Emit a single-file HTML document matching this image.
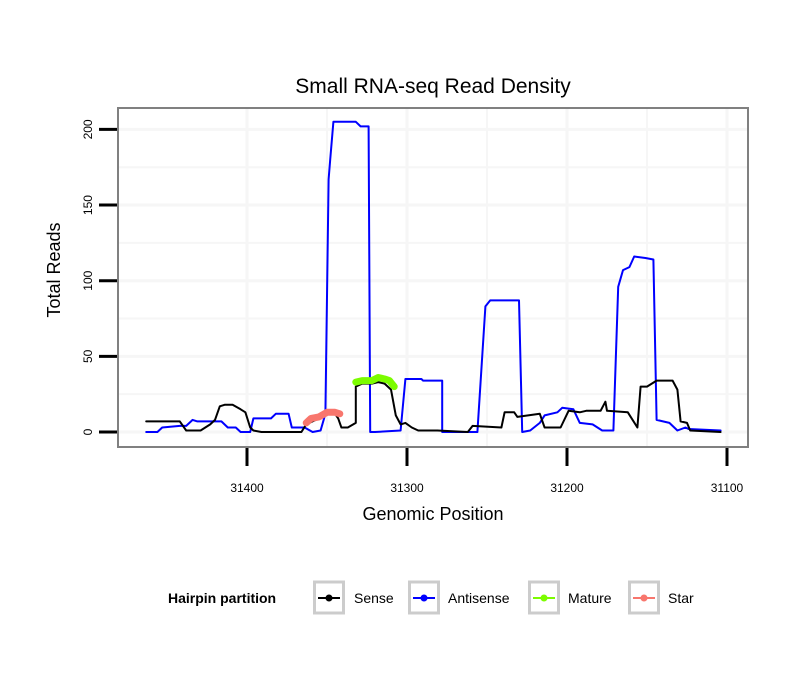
<!DOCTYPE html>
<html><head><meta charset="utf-8"><style>
html,body{margin:0;padding:0;background:#fff;}
svg text{font-family:"Liberation Sans",sans-serif;}
</style></head><body>
<svg id="chart" width="810" height="690" xmlns="http://www.w3.org/2000/svg">
<rect width="810" height="690" fill="#fff"/>
<text x="433" y="93" font-size="21" text-anchor="middle">Small RNA-seq Read Density</text>
<g id="grid"></g>
<g id="series"></g>
<rect x="118" y="108" width="630" height="339" fill="none" stroke="#808080" stroke-width="2"/>
<g id="axes"></g>
<text x="433" y="520" font-size="18" text-anchor="middle">Genomic Position</text>
<text transform="translate(60,270) rotate(-90)" font-size="18" text-anchor="middle">Total Reads</text>
<g>
<text x="168" y="603" font-size="14" font-weight="bold">Hairpin partition</text>
<g id="legend-items"></g>
</g>
</svg>
<script>
const xTicks=[31400,31300,31200,31100];
const yTicks=[0,50,100,150,200];
const senseX=[31463,31442,31438,31429,31423,31420,31417,31414,31409,31404,31401,31398,31396,31391,31366,31363,31361,31355,31350,31345,31343,31341,31337,31332,31332,31328,31322,31318,31314,31310,31307,31304,31301,31297,31293,31281,31262,31259,31241,31239,31233,31231,31217,31214,31204,31199,31192,31188,31179,31176,31175,31162,31156,31154,31150,31144,31134,31131,31129,31125,31123,31104];
const senseY=[7,7,1,1,5,8,17,18,18,15,13,3,1,0,0,5,6,9,12,12,9,3,3,6,30,32,32,33,32,28,11,5,6,3,1,1,0,4,3,13,13,10,12,3,3,14,13,14,14,20,14,13,3,30,30,34,34,28,7,6,1,0];
const antiX=[31463,31456,31453,31442,31438,31434,31431,31426,31416,31412,31407,31404,31398,31396,31385,31382,31374,31372,31364,31359,31354,31351,31349,31348,31346,31332,31329,31324,31323,31320,31304,31301,31291,31290,31278,31278,31256,31251,31248,31230,31228,31223,31217,31214,31206,31203,31196,31192,31184,31178,31171,31168,31165,31161,31158,31151,31146,31144,31140,31136,31131,31126,31124,31104];
const antiY=[0,0,3,4,4,8,7,7,7,3,3,0,0,9,9,12,12,3,3,0,1,12,167,180,205,205,202,202,0,0,1,35,35,34,34,0,0,83,87,87,0,1,6,11,13,16,15,6,5,1,1,96,107,109,116,115,114,8,7,6,1,3,2,1];
const matureX=[31332,31328,31325,31322,31318,31314,31311,31308];
const matureY=[33,34,34,34,36,35,34,30];
const starX=[31363,31360,31355,31350,31345,31342];
const starY=[6,9,10,13,13,12];
const NS="http://www.w3.org/2000/svg";
const px=p=>247+(31400-p)*1.6;
const py=v=>432-v*1.513;
function mk(tag,attrs,parent){const e=document.createElementNS(NS,tag);for(const k in attrs)e.setAttribute(k,attrs[k]);parent.appendChild(e);return e;}
const grid=document.getElementById('grid'),axes=document.getElementById('axes'),series=document.getElementById('series');
for(let v=0;v<=200;v+=25){const l=mk('line',{x1:119,x2:747,y1:py(v),y2:py(v),stroke:'#f6f6f6','stroke-width':v%50?2:3},grid);

}
for(let p=31400;p>=31100;p-=50){const x=px(p);if(x<119||x>747)continue;const l=mk('line',{x1:x,x2:x,y1:109,y2:446,stroke:'#f6f6f6','stroke-width':p%100?2:3},grid);

}
yTicks.forEach(v=>{const t=mk('line',{x1:99,x2:117,y1:py(v),y2:py(v),stroke:'#000','stroke-width':3},axes);


const tx=mk('text',{transform:`translate(${92},${py(v)}) rotate(-90)`,'font-size':12,'text-anchor':'middle'},axes);tx.textContent=v;

});
xTicks.forEach(p=>{const t=mk('line',{x1:px(p),x2:px(p),y1:448,y2:466,stroke:'#000','stroke-width':3},axes);


const tx=mk('text',{x:px(p),y:492,'font-size':12,'text-anchor':'middle'},axes);tx.textContent=p;

});
function line(xs,ys,color,w,name){const d=xs.map((x,i)=>(i?'L':'M')+px(x).toFixed(1)+','+py(ys[i]).toFixed(1)).join('');
const p=mk('path',{d:d,fill:'none',stroke:color,'stroke-width':w,'stroke-linejoin':'round','stroke-linecap':'round'},series);

}
line(antiX,antiY,'#0000ff',2,'antisense-line');
line(senseX,senseY,'#000000',2,'sense-line');
line(starX,starY,'#f8766d',7,'star-line');
line(matureX,matureY,'#7cfc00',7,'mature-line');
const leg=document.getElementById('legend-items');
[['Sense','#000',313,354],['Antisense','#0000ff',408,448],['Mature','#7cfc00',528,568],['Star','#f8766d',628,668]].forEach(([n,c,bx,tx])=>{
const b=mk('rect',{x:bx+1.5,y:582,width:29,height:31,fill:'#fff',stroke:'#cccccc','stroke-width':3},leg);


mk('line',{x1:bx+5,x2:bx+27,y1:598,y2:598,stroke:c,'stroke-width':2},leg);
mk('circle',{cx:bx+16,cy:598,r:3.5,fill:c},leg);
const t=mk('text',{x:tx,y:603,'font-size':14},leg);t.textContent=n;

});
</script>
</body></html>
